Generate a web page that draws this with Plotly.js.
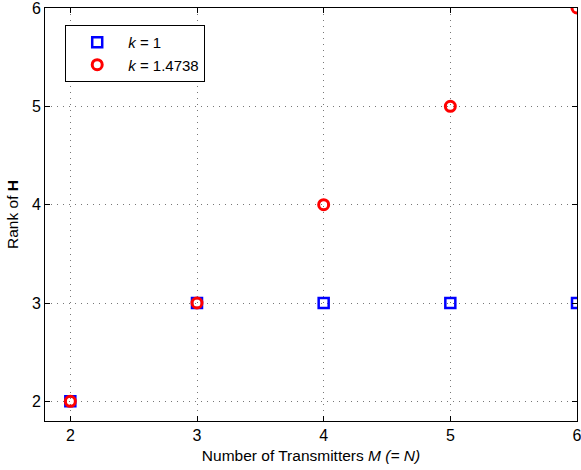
<!DOCTYPE html>
<html><head><meta charset="utf-8">
<script src="https://cdn.plot.ly/plotly-3.0.1.min.js"></script>
<style>body{margin:0;background:#fff}#c{width:581px;height:470px}</style>
</head><body><div id="c"></div>
<script>
const transmitters = [2, 3, 4, 5, 6];
const rankK1 = [2, 3, 3, 3, 3];
const rankK14738 = [2, 3, 4, 5, 6];
const seriesNames = ['<i>k</i> = 1', '<i>k</i> = 1.4738'];
const xTicks = [2, 3, 4, 5, 6];
const yTicks = [2, 3, 4, 5, 6];

const data = [
  {x: transmitters, y: rankK1, name: seriesNames[0], mode: 'markers', type: 'scatter',
   marker: {symbol: 'square-open', size: 10, color: '#0000ff', line: {width: 2.5, color: '#0000ff'}}},
  {x: transmitters, y: rankK14738, name: seriesNames[1], mode: 'markers', type: 'scatter',
   marker: {symbol: 'circle-open', size: 10, color: '#ff0000', line: {width: 3, color: '#ff0000'}}}
];
const axisCommon = {
  showline: true, linecolor: '#000', linewidth: 1, mirror: 'ticks',
  ticks: 'inside', ticklen: 5, tickcolor: '#000', tickwidth: 1,
  showgrid: true, gridcolor: '#777', griddash: '1px,5px', gridwidth: 1,
  zeroline: false, tickfont: {size: 16, color: '#000'}, ticklabeloverflow: 'allow'
};
const layout = {
  width: 581, height: 470,
  margin: {l: 45, r: 4, t: 8, b: 49},
  paper_bgcolor: '#fff', plot_bgcolor: '#fff',
  font: {family: 'Liberation Sans, Arial, sans-serif', color: '#000'},
  xaxis: Object.assign({}, axisCommon, {range: [1.8, 6], tickvals: xTicks,
    title: {text: 'Number of Transmitters <i>M (= N)</i>', font: {size: 15.5}, standoff: 6}}),
  yaxis: Object.assign({}, axisCommon, {range: [1.8, 6], tickvals: yTicks,
    title: {text: 'Rank of <b>H</b>', font: {size: 15.5}, standoff: 9}}),
  showlegend: true,
  legend: {x: 0.038, y: 0.959, xanchor: 'left', yanchor: 'top',
    bgcolor: '#fff', bordercolor: '#000', borderwidth: 1,
    font: {size: 15}, itemwidth: 52, tracegroupgap: 0}
};
Plotly.newPlot('c', data, layout, {displayModeBar: false});
</script></body></html>
